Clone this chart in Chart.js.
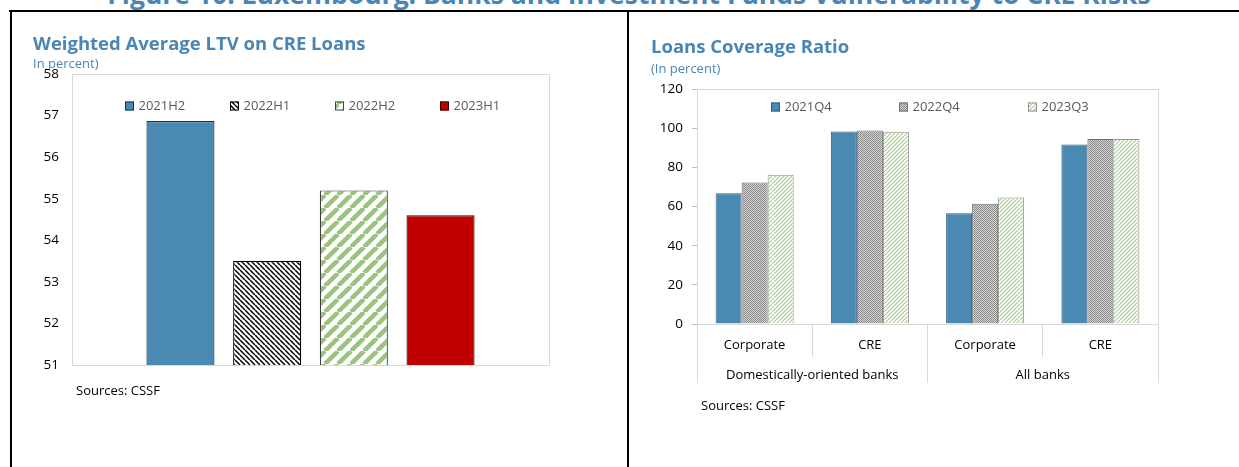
<!DOCTYPE html>
<html>
<head>
<meta charset="utf-8">
<title>Luxembourg: Banks and Investment Funds Vulnerability to CRE Risks</title>
<script src="https://cdn.jsdelivr.net/npm/chart.js@4.4.1/dist/chart.umd.min.js"></script>
<style>
    html, body { margin: 0; padding: 0; background: #fff; }
    body { width: 1239px; height: 467px; position: relative; overflow: hidden; font-family: "Open Sans", sans-serif; }
    .abs { position: absolute; white-space: nowrap; }
    .fig-title { left: 0; width: 1258px; top: -17px; text-align: center; font-size: 26.5px; line-height: 23px; font-weight: 700; color: #4a86b5; }
    .head { font-size: 18.5px; line-height: 22px; font-weight: 700; color: #4a86b5; }
    .sub { font-size: 13px; line-height: 16px; color: #4a86b5; }
    .src { font-size: 13px; line-height: 16px; color: #000; }
    .rule { position: absolute; background: #000; z-index: 2; }
    canvas { position: absolute; top: 0; }
</style>
</head>
<body>
<div class="abs fig-title">Figure 10. Luxembourg: Banks and Investment Funds Vulnerability to CRE Risks</div>

<canvas id="ltvChart" width="627" height="467" style="left:0;width:627px;height:467px"></canvas>
<canvas id="coverageChart" width="611" height="467" style="left:628px;width:611px;height:467px"></canvas>

<div class="abs head" style="left:33px;top:32px">Weighted Average LTV on CRE Loans</div>
<div class="abs sub" style="left:33px;top:55px">In percent)</div>
<div class="abs src" style="left:76px;top:382px">Sources: CSSF</div>

<div class="abs head" style="left:651px;top:35px">Loans Coverage Ratio</div>
<div class="abs sub" style="left:651px;top:60px">(In percent)</div>
<div class="abs src" style="left:701px;top:397px">Sources: CSSF</div>

<div class="rule" style="left:9px;top:10px;width:1230px;height:2px"></div>
<div class="rule" style="left:10px;top:10px;width:2px;height:457px"></div>
<div class="rule" style="left:627px;top:10px;width:2px;height:457px"></div>

<script>
// Left panel: weighted average LTV on CRE loans (in percent)
const ltvPeriods = ['2021H2', '2022H1', '2022H2', '2023H1'];
const ltvValues = [56.87, 53.5, 55.2, 54.6];
const ltvTicks = [51, 52, 53, 54, 55, 56, 57, 58];

// Right panel: loans coverage ratio (in percent)
const coverageCategories = ['Corporate', 'CRE', 'Corporate', 'CRE'];
const coverageGroups = ['Domestically-oriented banks', 'All banks'];
const coveragePeriods = ['2021Q4', '2022Q4', '2023Q3'];
const coverage2021Q4 = [66.8, 98.3, 56.5, 91.7];
const coverage2022Q4 = [72.2, 98.8, 61.4, 94.5];
const coverage2023Q3 = [76.2, 98.2, 64.6, 94.5];
const coverageTicks = [0, 20, 40, 60, 80, 100, 120];

Chart.defaults.font.family = "'Open Sans', sans-serif";
Chart.defaults.color = '#000';

const BLUE = '#4a89b1';

function makePattern(size, bg, draw) {
    const c = document.createElement('canvas');
    c.width = size;
    c.height = size;
    const g = c.getContext('2d');
    if (bg) {
        g.fillStyle = bg;
        g.fillRect(0, 0, size, size);
    }
    draw(g, size);
    return g.createPattern(c, 'repeat');
}

// diagonal stripes, dir 1 = "\" and -1 = "/"
function stripes(size, bg, color, width, dir) {
    return makePattern(size, bg, (g, s) => {
        g.strokeStyle = color;
        g.lineWidth = width;
        for (let k = -1; k <= 1; k++) {
            g.beginPath();
            if (dir > 0) {
                g.moveTo(k * s, 0);
                g.lineTo(k * s + s, s);
            } else {
                g.moveTo(k * s, s);
                g.lineTo(k * s + s, 0);
            }
            g.stroke();
        }
    });
}

const speckle = makePattern(2, '#d4d4d4', (g) => {
    g.fillStyle = '#8a8a8a';
    g.fillRect(0, 0, 1, 1);
    g.fillRect(1, 1, 1, 1);
});

// light grey box drawn round the plot area
const plotBox = {
    id: 'plotBox',
    beforeDatasetsDraw(chart, args, opts) {
        const { ctx, chartArea: a } = chart;
        ctx.save();
        ctx.strokeStyle = opts.color || '#d9d9d9';
        ctx.lineWidth = 1;
        ctx.strokeRect(Math.round(a.left) + 0.5, Math.round(a.top) + 0.5,
            Math.round(a.right - a.left), Math.round(a.bottom - a.top));
        ctx.restore();
    }
};

// legend row sitting inside the plot area, Excel style
const boxLegend = {
    id: 'boxLegend',
    afterDraw(chart, args, opts) {
        const { ctx, chartArea: a } = chart;
        const box = opts.box || 8;
        ctx.save();
        ctx.font = (opts.fontSize || 13) + "px 'Open Sans', sans-serif";
        ctx.textBaseline = 'middle';
        chart.data.datasets.forEach((ds, i) => {
            const x = Math.round(a.left + opts.x0 + i * opts.step);
            const y = Math.round(a.top + opts.dy);
            ctx.fillStyle = ds.backgroundColor;
            ctx.fillRect(x, y - box / 2, box, box);
            ctx.strokeStyle = ds.borderColor;
            ctx.lineWidth = 1;
            ctx.strokeRect(x + 0.5, y - box / 2 + 0.5, box - 1, box - 1);
            ctx.fillStyle = '#595959';
            ctx.fillText(ds.label, x + box + 4.5, y + 0.5);
        });
        ctx.restore();
    }
};

function initializeLtvChart() {
    const fills = [
        BLUE,
        stripes(5, '#ffffff', '#000000', 1.5, 1),
        stripes(13, '#ffffff', '#9bc37f', 4.5, -1),
        '#c00000'
    ];
    const borders = ['#1c3346', '#000000', '#404040', '#3a0000'];

    new Chart(document.getElementById('ltvChart'), {
        type: 'bar',
        data: {
            labels: [''],
            datasets: ltvPeriods.map((p, i) => ({
                label: p,
                data: [ltvValues[i]],
                backgroundColor: fills[i],
                borderColor: borders[i],
                borderWidth: 1.2
            }))
        },
        options: {
            responsive: false,
            animation: false,
            layout: { padding: { left: 22, top: 74, right: 78, bottom: 102 } },
            datasets: { bar: { categoryPercentage: 0.727, barPercentage: 0.785 } },
            plugins: {
                legend: { display: false },
                tooltip: { enabled: false },
                plotBox: { color: '#d9d9d9' },
                boxLegend: { x0: 53, step: 105, dy: 32, box: 9, fontSize: 13 }
            },
            scales: {
                x: {
                    grid: { display: false, drawTicks: false },
                    ticks: { display: false },
                    border: { display: false },
                    afterFit: s => { s.height = 0; }
                },
                y: {
                    min: ltvTicks[0],
                    max: ltvTicks[ltvTicks.length - 1],
                    ticks: { stepSize: 1, padding: 13, color: '#000', font: { size: 13.5 } },
                    grid: { display: false, drawTicks: false },
                    border: { display: false },
                    afterFit: s => { s.width = 50; }
                }
            }
        },
        plugins: [plotBox, boxLegend]
    });
}

function initializeCoverageChart() {
    const series = [coverage2021Q4, coverage2022Q4, coverage2023Q3];
    const fills = [BLUE, speckle, stripes(4, '#ffffff', '#a9d18e', 1.2, -1)];
    const borders = ['#2f5f80', '#6e6e6e', '#8f8f8f'];

    new Chart(document.getElementById('coverageChart'), {
        type: 'bar',
        data: {
            labels: coverageCategories,
            datasets: coveragePeriods.map((p, i) => ({
                label: p,
                data: series[i],
                backgroundColor: fills[i],
                borderColor: borders[i],
                borderWidth: 1
            }))
        },
        options: {
            responsive: false,
            animation: false,
            layout: { padding: { left: 14, top: 89, right: 81, bottom: 84 } },
            datasets: { bar: { categoryPercentage: 0.677, barPercentage: 1.0 } },
            plugins: {
                legend: { display: false },
                tooltip: { enabled: false },
                plotBox: { color: '#d9d9d9' },
                boxLegend: { x0: 73.6, step: 128.6, dy: 18, box: 9, fontSize: 13 }
            },
            scales: {
                x: {
                    offset: true,
                    weight: 0,
                    grid: { offset: true, drawOnChartArea: false, tickLength: 33, color: '#d9d9d9' },
                    border: { display: false },
                    ticks: { padding: -19.8, autoSkip: false, maxRotation: 0, color: '#000', font: { size: 13 } },
                    afterFit: s => { s.height = 33; }
                },
                x2: {
                    type: 'category',
                    labels: coverageGroups,
                    position: 'bottom',
                    offset: true,
                    weight: 1,
                    grid: { offset: true, drawOnChartArea: false, tickLength: 26, color: '#d9d9d9' },
                    border: { display: false },
                    ticks: { padding: -15.8, autoSkip: false, maxRotation: 0, color: '#000', font: { size: 13 } },
                    afterFit: s => { s.height = 26; }
                },
                y: {
                    min: coverageTicks[0],
                    max: coverageTicks[coverageTicks.length - 1],
                    ticks: { stepSize: 20, padding: 9, color: '#000', font: { size: 13.5 } },
                    grid: { drawOnChartArea: false, tickLength: 5, color: '#bfbfbf' },
                    border: { display: false },
                    afterFit: s => { s.width = 55; }
                }
            }
        },
        plugins: [plotBox, boxLegend]
    });
}

initializeLtvChart();
initializeCoverageChart();
</script>
</body>
</html>
